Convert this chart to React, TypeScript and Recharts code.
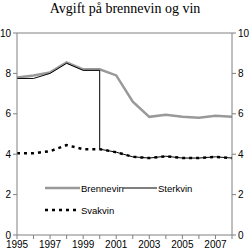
import React from 'react';
import { LineChart, Line, XAxis, YAxis, ReferenceLine, Legend } from 'recharts';

const years = [1995, 1996, 1997, 1998, 1999, 2000, 2001, 2002, 2003, 2004, 2005, 2006, 2007, 2008];
const brennevin = [7.8, 7.9, 8.05, 8.55, 8.2, 8.2, 7.9, 6.6, 5.85, 5.95, 5.85, 5.8, 5.9, 5.85];
const sterkvinYears = [1995, 1996, 1997, 1998, 1999, 2000, 2000, 2001, 2002, 2003, 2004, 2005, 2006, 2007, 2008];
const sterkvin = [7.75, 7.75, 8.0, 8.5, 8.15, 8.15, 4.25, 4.1, 3.87, 3.81, 3.9, 3.81, 3.81, 3.87, 3.81];
const svakvin = [4.05, 4.05, 4.15, 4.45, 4.25, 4.25, 4.1, 3.87, 3.81, 3.9, 3.81, 3.81, 3.87, 3.81];
const yTicks = [0, 2, 4, 6, 8, 10];
const xLabels = [1995, 1997, 1999, 2001, 2003, 2005, 2007];
const title = 'Avgift på brennevin og vin';

const brennevinData = years.map((year, i) => ({ year, value: brennevin[i] }));
const sterkvinData = sterkvinYears.map((year, i) => ({ year, value: sterkvin[i] }));
const svakvinData = years.map((year, i) => ({ year, value: svakvin[i] }));

const AXIS = '#808080';
const FONT = '"Liberation Sans", Arial, sans-serif';

const renderLegend = () => (
  <svg width={250} height={252} style={{ display: 'block' }}>
    <line x1={45} y1={188} x2={80} y2={188} stroke="#999999" strokeWidth={2.5} />
    <text x={81} y={191.5} fontSize={9.5} fontFamily={FONT} fill="#000">Brennevin</text>
    <line x1={123} y1={188} x2={157} y2={188} stroke="#000" strokeWidth={1} />
    <text x={158} y={191.5} fontSize={9.5} fontFamily={FONT} fill="#000">Sterkvin</text>
    <line x1={45} y1={210} x2={80} y2={210} stroke="#000" strokeWidth={2.5} strokeDasharray="3 4" />
    <text x={81} y={213.5} fontSize={9.5} fontFamily={FONT} fill="#000">Svakvin</text>
  </svg>
);

export default function App() {
  return (
    <div style={{ position: 'absolute', left: 0, top: 0, width: 250, height: 252, background: '#fff' }}>
      <div
        style={{
          position: 'absolute',
          left: 0,
          top: 1,
          width: 250,
          textAlign: 'center',
          fontFamily: '"Liberation Serif", "Times New Roman", serif',
          fontSize: 14,
          lineHeight: '16px',
          color: '#000',
        }}
      >
        {title}
      </div>
      <LineChart width={250} height={252} margin={{ top: 33, right: 0, bottom: 0, left: 0 }}>
        <XAxis
          type="number"
          dataKey="year"
          domain={[1995, 2008]}
          ticks={years}
          interval={0}
          tickFormatter={(v: number) => (xLabels.includes(v) ? String(v) : '')}
          stroke={AXIS}
          tickSize={4}
          height={17}
          tick={{ fill: '#000', fontSize: 10, fontFamily: FONT }}
          allowDuplicatedCategory
        />
        <YAxis
          yAxisId="left"
          domain={[0, 10]}
          ticks={yTicks}
          interval={0}
          width={17}
          stroke={AXIS}
          tickSize={4}
          tick={{ fill: '#000', fontSize: 10, fontFamily: FONT }}
        />
        <YAxis
          yAxisId="right"
          orientation="right"
          domain={[0, 10]}
          ticks={yTicks}
          interval={0}
          width={18}
          stroke={AXIS}
          tickSize={4}
          tick={{ fill: '#000', fontSize: 10, fontFamily: FONT, textAnchor: 'start' }}
        />
        <ReferenceLine yAxisId="left" y={10} stroke={AXIS} />
        <Line
          yAxisId="right"
          data={brennevinData}
          dataKey="value"
          type="linear"
          stroke="none"
          strokeWidth={0}
          dot={false}
          legendType="none"
          isAnimationActive={false}
        />
        <Line
          yAxisId="left"
          data={brennevinData}
          dataKey="value"
          type="linear"
          stroke="#999999"
          strokeWidth={2.5}
          dot={false}
          isAnimationActive={false}
        />
        <Line
          yAxisId="left"
          data={svakvinData}
          dataKey="value"
          type="linear"
          stroke="#000"
          strokeWidth={2.5}
          strokeDasharray="3 4"
          dot={false}
          isAnimationActive={false}
        />
        <Line
          yAxisId="left"
          data={sterkvinData}
          dataKey="value"
          type="linear"
          stroke="#000"
          strokeWidth={1}
          dot={false}
          isAnimationActive={false}
        />
        <Legend
          verticalAlign="middle"
          align="center"
          layout="horizontal"
          content={renderLegend}
          wrapperStyle={{ position: 'absolute', left: 0, top: 0, width: 250, height: 252, pointerEvents: 'none' }}
        />
      </LineChart>
    </div>
  );
}
